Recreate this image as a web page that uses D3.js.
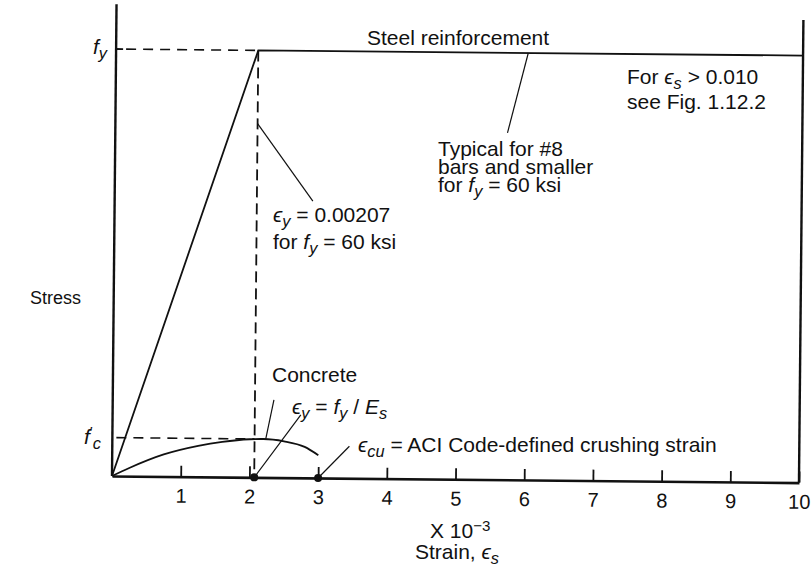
<!DOCTYPE html>
<html>
<head>
<meta charset="utf-8">
<script src="https://cdn.jsdelivr.net/npm/d3@7"></script>
<style>
  html, body { margin: 0; padding: 0; background: #fff; }
  svg { display: block; }
  text { font-family: "Liberation Sans", Arial, Helvetica, sans-serif; fill: #111; }
</style>
</head>
<body>
<svg id="chart" width="811" height="576"></svg>
<script>
// Strain axis (units of 10^-3) and tick labels
const strainTicks = [1, 2, 3, 4, 5, 6, 7, 8, 9, 10];

// Steel reinforcement: elastic up to yield, then flat plateau
const steelStrain = [0, 2.07, 10];
const steelStress = [0, 60, 60];

// Concrete stress-strain curve (ksi), peaking at f'c
const concreteStrain = [0, 0.25, 0.75, 1.25, 1.6, 2.0, 2.2, 2.5, 2.8, 3.0];
const concreteStress = [0, 1.15, 3.1, 4.35, 4.95, 5.35, 5.4, 5.1, 4.35, 3.2];

// Reference values
const fyValue = 60;        // ksi
const fcValue = 5.4;       // ksi, concrete peak
const epsYield = 2.07;     // x 10^-3
const epsCrush = 3.0;      // x 10^-3
const stressTop = 66.3;    // top of the stress axis
const plateauLeader = 6.0; // strain where the "Typical..." leader meets the plateau
const concreteLeader = 2.23;

const svg = d3.select("#chart");
const x0 = 112, y0 = 476;
const FS = 21;

const x = d3.scaleLinear().domain([0, 10]).range([x0, 799]);
const y = d3.scaleLinear().domain([0, 60]).range([y0, 49]);

// The whole drawing sits at a very slight tilt
const g = svg.append("g").attr("transform", `rotate(0.55, ${x0}, ${y0})`);

const lineGen = d3.line().x(d => x(d[0])).y(d => y(d[1]));

// Axes frame: left, bottom, right
g.append("line").attr("x1", x(0)).attr("x2", x(0)).attr("y1", y(0)).attr("y2", y(stressTop))
  .attr("stroke", "#111").attr("stroke-width", 2.4);
g.append("line").attr("x1", x(10)).attr("x2", x(10)).attr("y1", y(0)).attr("y2", y(65))
  .attr("stroke", "#111").attr("stroke-width", 2.4);

const xAxis = d3.axisBottom(x).tickValues(strainTicks).tickSizeInner(-11).tickSizeOuter(0)
  .tickPadding(12).tickFormat(d3.format("d"));
const ax = g.append("g").attr("transform", `translate(0, ${y0})`).call(xAxis);
ax.select(".domain").attr("stroke", "#111").attr("stroke-width", 2.6);
ax.selectAll(".tick line").attr("stroke", "#111").attr("stroke-width", 1.8);
ax.selectAll(".tick text").attr("font-size", 20).attr("font-family", "Liberation Sans, Arial, sans-serif").attr("fill", "#111");

// f_y tick on stress axis
g.append("line").attr("x1", x(0)).attr("x2", x(0) + 7).attr("y1", y(fyValue)).attr("y2", y(fyValue))
  .attr("stroke", "#111").attr("stroke-width", 1.8);

// Dashed guides at f_y, f'c and epsilon_y
const dash = "10,7";
g.append("line").attr("x1", x(0) + 10).attr("x2", x(epsYield)).attr("y1", y(fyValue)).attr("y2", y(fyValue))
  .attr("stroke", "#111").attr("stroke-width", 1.6).attr("stroke-dasharray", dash);
g.append("line").attr("x1", x(0) + 4).attr("x2", x(epsYield)).attr("y1", y(fcValue)).attr("y2", y(fcValue))
  .attr("stroke", "#111").attr("stroke-width", 1.6).attr("stroke-dasharray", dash);
g.append("line").attr("x1", x(epsYield)).attr("x2", x(epsYield)).attr("y1", y(fyValue)).attr("y2", y(0))
  .attr("stroke", "#111").attr("stroke-width", 1.8).attr("stroke-dasharray", "11,6");

// Steel curve
g.append("path").datum(steelStrain.map((s, i) => [s, steelStress[i]]))
  .attr("d", lineGen).attr("fill", "none").attr("stroke", "#111").attr("stroke-width", 1.8);

// Concrete curve
g.append("path").datum(concreteStrain.map((s, i) => [s, concreteStress[i]]))
  .attr("d", lineGen.curve(d3.curveMonotoneX)).attr("fill", "none").attr("stroke", "#111").attr("stroke-width", 1.8);

// Marked strains on the axis
g.selectAll("circle.mark").data([epsYield, epsCrush]).enter().append("circle")
  .attr("cx", d => x(d)).attr("cy", y(0)).attr("r", 4).attr("fill", "#111");

// Leader lines (start on a mark, end near its label)
function leader(sx, sy, dx, dy) {
  g.append("line").attr("x1", x(sx)).attr("y1", y(sy)).attr("x2", x(sx) + dx).attr("y2", y(sy) + dy)
    .attr("stroke", "#111").attr("stroke-width", 1.2);
}
leader(plateauLeader, fyValue, -20, 80);
leader(epsYield, 49.7, 56, 77);
leader(concreteLeader, 5.3, 8, -40);
leader(epsYield, 0, 46, -63);
leader(epsCrush, 0, 31, -32);

// Text helper: rich text with italic / sub / superscripts
function rich(px, py, parts, size = FS) {
  const t = svg.append("text").attr("x", px).attr("y", py).attr("font-size", size);
  parts.forEach(p => {
    const s = t.append("tspan").text(p.t);
    if (p.i) s.attr("font-style", "italic");
    if (p.sub) s.attr("baseline-shift", "-30%").attr("font-size", size * 0.78);
    if (p.sup) s.attr("baseline-shift", "45%").attr("font-size", size * 0.72);
  });
  return t;
}
const EPS = "\u03F5";

rich(93, 54, [{t: "f", i: 1}, {t: "y", i: 1, sub: 1}]);
rich(84, 444, [{t: "f", i: 1}, {t: "\u2032", sup: 1}, {t: "c", i: 1, sub: 1}]);
rich(367, 45, [{t: "Steel reinforcement"}]);
rich(627, 84, [{t: "For "}, {t: EPS, i: 1}, {t: "s", i: 1, sub: 1}, {t: " > 0.010"}]);
rich(627, 109, [{t: "see Fig. 1.12.2"}]);
rich(438, 156, [{t: "Typical for #8"}]);
rich(438, 174, [{t: "bars and smaller"}]);
rich(438, 192, [{t: "for "}, {t: "f", i: 1}, {t: "y", i: 1, sub: 1}, {t: " = 60 ksi"}]);
rich(273, 222, [{t: EPS, i: 1}, {t: "y", i: 1, sub: 1}, {t: " = 0.00207"}]);
rich(273, 249, [{t: "for "}, {t: "f", i: 1}, {t: "y", i: 1, sub: 1}, {t: " = 60 ksi"}]);
rich(30, 304, [{t: "Stress"}], 18);
rich(272, 382, [{t: "Concrete"}]);
rich(292, 414, [{t: EPS, i: 1}, {t: "y", i: 1, sub: 1}, {t: " = "}, {t: "f", i: 1}, {t: "y", i: 1, sub: 1}, {t: " / "}, {t: "E", i: 1}, {t: "s", i: 1, sub: 1}]);
rich(358, 452, [{t: EPS, i: 1}, {t: "cu", i: 1, sub: 1}, {t: " = ACI Code-defined crushing strain"}]);
rich(430, 538, [{t: "X 10"}, {t: "\u22123", sup: 1}]);
rich(415, 559, [{t: "Strain, "}, {t: EPS, i: 1}, {t: "s", i: 1, sub: 1}]);
</script>
</body>
</html>
